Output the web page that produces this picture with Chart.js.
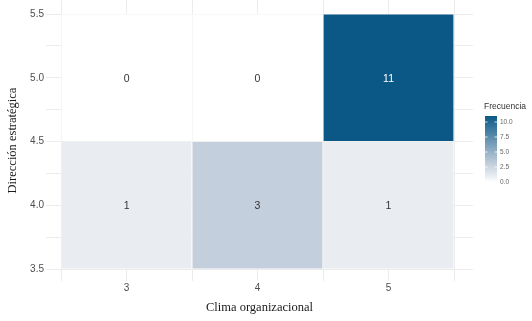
<!DOCTYPE html>
<html>
<head>
<meta charset="utf-8">
<script src="https://cdn.jsdelivr.net/npm/chart.js@4/dist/chart.umd.min.js"></script>
<style>
  html, body { margin: 0; padding: 0; background: #ffffff; }
  #wrap { width: 532px; height: 321px; }
</style>
</head>
<body>
<div id="wrap"><canvas id="c" width="532" height="321"></canvas></div>
<script>
// ---- data ----
const xCategories = [3, 4, 5];              // Clima organizacional
const yCategories = [4, 5];                 // Dirección estratégica
const counts = [                            // rows follow yCategories, columns follow xCategories
  [1, 3, 1],
  [0, 0, 11]
];
const xGridValues = [2.5, 3, 3.5, 4, 4.5, 5, 5.5];
const yGridValues = [3.5, 3.75, 4, 4.25, 4.5, 4.75, 5, 5.25, 5.5];
const legendTicks = [0, 2.5, 5, 7.5, 10];
const xTitle = 'Clima organizacional';
const yTitle = 'Dirección estratégica';
const legendTitle = 'Frecuencia';

// ---- style ----
const colorStops = [[0, [255, 255, 255]], [1, [233, 237, 242]], [3, [195, 207, 220]], [11, [11, 88, 134]]];
function colorFor(v) {
  for (let i = 1; i < colorStops.length; i++) {
    const [v1, c1] = colorStops[i];
    const [v0, c0] = colorStops[i - 1];
    if (v <= v1 || i === colorStops.length - 1) {
      const t = Math.max(0, Math.min(1, (v - v0) / (v1 - v0)));
      const c = c0.map((a, k) => Math.round(a + (c1[k] - a) * t));
      return `rgb(${c[0]},${c[1]},${c[2]})`;
    }
  }
}
const maxCount = Math.max(...counts.flat());
const sans = "'Liberation Sans', Arial, sans-serif";
const serif = "'Liberation Serif', 'Times New Roman', serif";
// tiles span one unit; Chart.js sizes bars from the smallest tick spacing (the 0.5 grid step)
const tileWidth = 1;
const gridStep = xGridValues[1] - xGridValues[0];

// ---- build tiles ----
const tiles = [];
yCategories.forEach((yv, j) => {
  xCategories.forEach((xv, i) => {
    tiles.push({ x: xv, y: [yv - 0.5, yv + 0.5], n: counts[j][i] });
  });
});

const cellLabels = {
  id: 'cellLabels',
  afterDatasetsDraw(chart) {
    const { ctx, scales: { x, y } } = chart;
    ctx.save();
    ctx.font = `10.5px ${sans}`;
    ctx.textAlign = 'center';
    ctx.textBaseline = 'middle';
    tiles.forEach(t => {
      ctx.fillStyle = t.n > maxCount / 2 ? '#ffffff' : '#333333';
      ctx.fillText(String(t.n), x.getPixelForValue(t.x), y.getPixelForValue((t.y[0] + t.y[1]) / 2) + 1);
    });
    ctx.restore();
  }
};

const colorbar = {
  id: 'colorbar',
  afterDraw(chart) {
    const { ctx, chartArea } = chart;
    const left = chartArea.right + 12;
    const w = 12, top = 116, bottom = 182, h = bottom - top;
    ctx.save();
    ctx.font = `8.5px ${sans}`;
    ctx.fillStyle = '#333333';
    ctx.textAlign = 'left';
    ctx.textBaseline = 'middle';
    ctx.fillText(legendTitle, left - 1, 107);
    for (let k = 0; k < h; k++) {
      const v = maxCount * (1 - (k + 0.5) / h);
      ctx.fillStyle = colorFor(v);
      ctx.fillRect(left, top + k, w, 1);
    }
    ctx.font = `6.5px ${sans}`;
    legendTicks.forEach(v => {
      const py = bottom - v / maxCount * h;
      ctx.strokeStyle = 'rgba(255,255,255,0.8)';
      ctx.lineWidth = 1;
      ctx.beginPath();
      ctx.moveTo(left, py); ctx.lineTo(left + 2.5, py);
      ctx.moveTo(left + w - 2.5, py); ctx.lineTo(left + w, py);
      ctx.stroke();
      ctx.fillStyle = '#666666';
      ctx.fillText(v.toFixed(1), left + w + 3, py);
    });
    ctx.restore();
  }
};

new Chart(document.getElementById('c'), {
  type: 'bar',
  data: {
    datasets: [{
      data: tiles,
      backgroundColor: c => colorFor(c.raw ? c.raw.n : 0),
      borderColor: 'rgba(255,255,255,0.5)',
      borderWidth: 0.6,
      borderSkipped: false,
      barPercentage: tileWidth / gridStep,
      categoryPercentage: 1
    }]
  },
  options: {
    responsive: false,
    animation: false,
    devicePixelRatio: 1,
    layout: { padding: { top: 0, right: 59, bottom: 0, left: 0 } },
    plugins: { legend: { display: false }, tooltip: { enabled: false } },
    scales: {
      x: {
        type: 'linear',
        min: 2.385, max: 5.645,
        offset: false,
        grid: { color: '#ececec', lineWidth: 1, drawTicks: false, offset: false },
        border: { display: false },
        afterBuildTicks: s => { s.ticks = xGridValues.map(v => ({ value: v })); },
        afterFit: s => { s.height = 40; s.paddingLeft = 0; s.paddingRight = 0; },
        ticks: {
          autoSkip: false, maxRotation: 0, padding: 1,
          color: '#4d4d4d', font: { family: sans, size: 10 },
          callback: v => Number.isInteger(v) ? String(v) : ''
        },
        title: { display: true, text: xTitle, color: '#1a1a1a',
                 font: { family: serif, size: 12.5 }, padding: { top: 0, bottom: 6 } }
      },
      y: {
        type: 'linear',
        min: 3.406, max: 5.61,
        grid: { color: '#ececec', lineWidth: 1, drawTicks: false },
        border: { display: false },
        afterBuildTicks: s => { s.ticks = yGridValues.map(v => ({ value: v })); },
        afterFit: s => { s.width = 46; s.paddingTop = 0; s.paddingBottom = 0; },
        ticks: {
          autoSkip: false, padding: 2,
          color: '#4d4d4d', font: { family: sans, size: 10 },
          callback: v => Number.isInteger(v * 2) ? v.toFixed(1) : ''
        },
        title: { display: true, text: yTitle, color: '#1a1a1a',
                 font: { family: serif, size: 12.5 }, padding: { top: 5, bottom: 0 } }
      }
    }
  },
  plugins: [cellLabels, colorbar]
});
</script>
</body>
</html>
